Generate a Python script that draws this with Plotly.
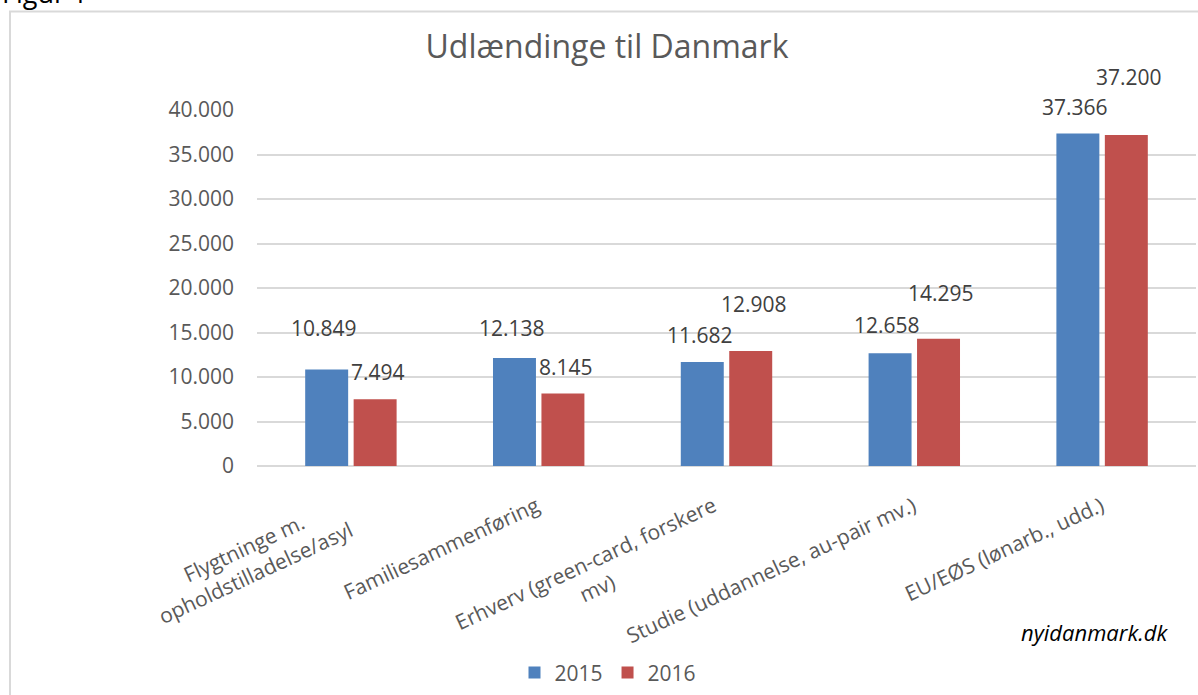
import plotly.graph_objects as go

# data
categories = [
    "Flygtninge m.<br>opholdstilladelse/asyl",
    "Familiesammenføring",
    "Erhverv (green-card, forskere<br>mv)",
    "Studie (uddannelse, au-pair mv.)",
    "EU/EØS (lønarb., udd.)",
]
cat_keys = ["c1", "c2", "c3", "c4", "c5"]
years = ["2015", "2016"]
values_2015 = [10849, 12138, 11682, 12658, 37366]
values_2016 = [7494, 8145, 12908, 14295, 37200]
y_ticks = [0, 5000, 10000, 15000, 20000, 25000, 30000, 35000, 40000]

# data labels sit at odd heights in the original (pixels above bar top)
label_lift_2015 = [41, 30, 27, 28, 26]
label_lift_2016 = [27, 27, 47, 46, 58]

colors = ["#4F81BD", "#C0504D"]
font = "Open Sans"
grey = "#595959"

# pixel layout -> paper coords
L, R, T, B = 257, 2, 110, 227
W, H = 1198, 695
pw, ph = W - L - R, H - T - B


def px(x):
    return (x - L) / pw


def py(y):
    return (H - B - y) / ph


def fmt(v):
    return f"{v:,}".replace(",", ".")


fig = go.Figure()
for name, vals, col in zip(years, [values_2015, values_2016], colors):
    fig.add_trace(go.Bar(x=cat_keys, y=vals, name=name, marker_color=col,
                         marker_line_width=0))

# value labels
for i, k in enumerate(cat_keys):
    for vals, lift, shift in [(values_2015, label_lift_2015, -27),
                              (values_2016, label_lift_2016, 27)]:
        fig.add_annotation(x=k, y=vals[i], xref="x", yref="y", text=fmt(vals[i]),
                           showarrow=False, xshift=shift, yshift=lift[i],
                           xanchor="center", yanchor="middle",
                           font=dict(family=font, size=21, color="#404040"))

# rotated category labels (centred lines like Excel)
for k, c in zip(cat_keys, categories):
    fig.add_annotation(x=k, y=0, xref="x", yref="y", text=c, showarrow=False,
                       textangle=-25, xanchor="right", yanchor="top",
                       xshift=8, yshift=-22, align="center",
                       font=dict(family=font, size=21, color=grey))

# source
fig.add_annotation(x=px(1170), y=py(635), xref="paper", yref="paper",
                   text="<i>nyidanmark.dk</i>", showarrow=False,
                   xanchor="right", yanchor="middle",
                   font=dict(family=font, size=22, color="#000000"))

fig.add_annotation(x=px(0), y=py(12), xref="paper", yref="paper", text="Figur 1",
                   showarrow=False, xanchor="left", yanchor="bottom",
                   font=dict(family=font, size=27, color="#000000"))

fig.add_shape(type="rect", xref="paper", yref="paper",
              x0=px(10), x1=px(1205), y0=py(710), y1=py(11),
              line=dict(color="#D9D9D9", width=2), layer="below")

fig.update_layout(
    width=W, height=H,
    margin=dict(l=L, r=R, t=T, b=B),
    paper_bgcolor="white", plot_bgcolor="white",
    title=dict(text="Udlændinge til Danmark", x=607 / W, xanchor="center",
               y=1 - 47 / H, yanchor="middle",
               font=dict(family=font, size=32, color=grey)),
    barmode="group", bargap=0.484, bargroupgap=0.113,
    showlegend=True,
    legend=dict(orientation="h", x=px(608), xanchor="center", y=py(676),
                yanchor="middle", font=dict(family=font, size=21, color=grey),
                traceorder="normal"),
    font=dict(family=font),
)
fig.update_xaxes(range=[-0.5, 4.5], autorange=False, showticklabels=False,
                 showgrid=False, showline=False, zeroline=False, fixedrange=True)
fig.update_yaxes(range=[0, 40000], autorange=False, tickvals=y_ticks,
                 ticktext=[fmt(v) for v in y_ticks],
                 showgrid=True, gridcolor="#D9D9D9", gridwidth=1.5,
                 zeroline=True, zerolinecolor="#D9D9D9", zerolinewidth=1.5,
                 showline=False, ticks="", ticklabelstandoff=22,
                 tickfont=dict(family=font, size=21, color=grey))

# page has a default 8px body margin; drop it so the figure sits at 0,0
fig.write_html("out.html", config={"displayModeBar": False},
               post_script="document.body.style.margin='0px';")
